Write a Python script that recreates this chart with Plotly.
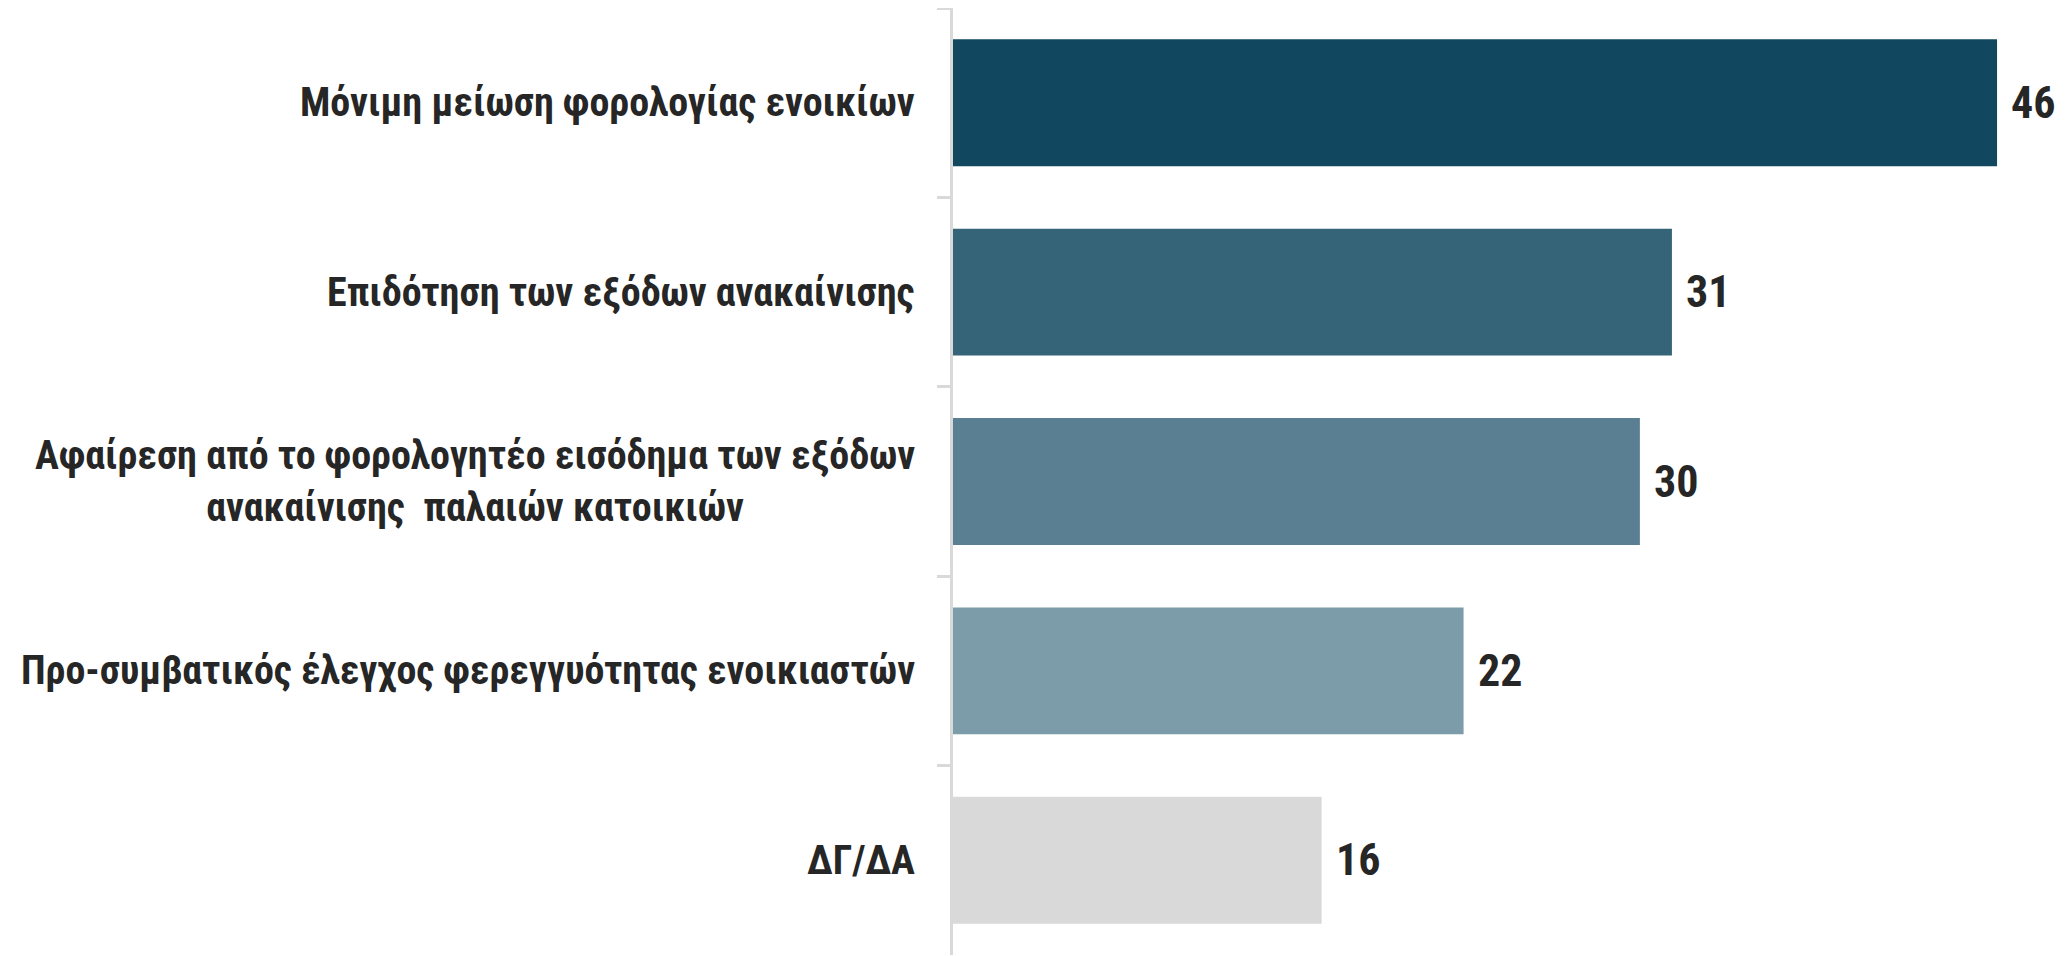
import plotly.graph_objects as go

# Datos
categorias = [
    "Μόνιμη μείωση φορολογίας ενοικίων",
    "Επιδότηση των εξόδων ανακαίνισης",
    "Αφαίρεση από το φορολογητέο εισόδημα των εξόδων<br>ανακαίνισης  παλαιών κατοικιών",
    "Προ-συμβατικός έλεγχος φερεγγυότητας ενοικιαστών",
    "ΔΓ/ΔΑ",
]
valores = [45.6, 31.4, 30.0, 22.3, 16.1]
etiquetas = [46, 31, 30, 22, 16]
colores = ["#11475f", "#356479", "#5a7f92", "#7c9caa", "#d9d9d9"]

FUENTE = "Roboto Condensed, Liberation Sans, sans-serif"
TEXTO = "#262626"

fig = go.Figure(go.Bar(
    x=valores,
    y=categorias,
    orientation="h",
    marker=dict(color=colores, line=dict(width=0)),
    width=0.67,
    hoverinfo="x+y",
))

# etiquetas de categorías (centradas en varias líneas, como en el original)
for cat in categorias:
    fig.add_annotation(
        x=0, xref="paper", y=cat, yref="y",
        text=f"<b>{cat}</b>", showarrow=False, xanchor="right", align="center",
        xshift=-36, font=dict(family=FUENTE, size=40, color=TEXTO),
    )

# etiquetas de valores
for cat, v, et in zip(categorias, valores, etiquetas):
    fig.add_annotation(
        x=v, xref="x", y=cat, yref="y",
        text=f"<b>{et}</b>", showarrow=False, xanchor="left",
        xshift=12, font=dict(family=FUENTE, size=44, color=TEXTO),
    )

fig.update_layout(
    width=2069, height=956,
    margin=dict(l=945, r=25, t=0, b=9),
    paper_bgcolor="white",
    plot_bgcolor="white",
    showlegend=False,
    font=dict(family=FUENTE, color=TEXTO),
)
fig.update_xaxes(range=[0, 48], visible=False)
fig.update_yaxes(
    autorange="reversed",
    showticklabels=False,
    showline=True, linecolor="#d9d9d9", linewidth=3,
    ticks="outside", tickson="boundaries", ticklen=13,
    tickcolor="#d9d9d9", tickwidth=3,
    showgrid=False,
)

fig.write_html("out.html")
